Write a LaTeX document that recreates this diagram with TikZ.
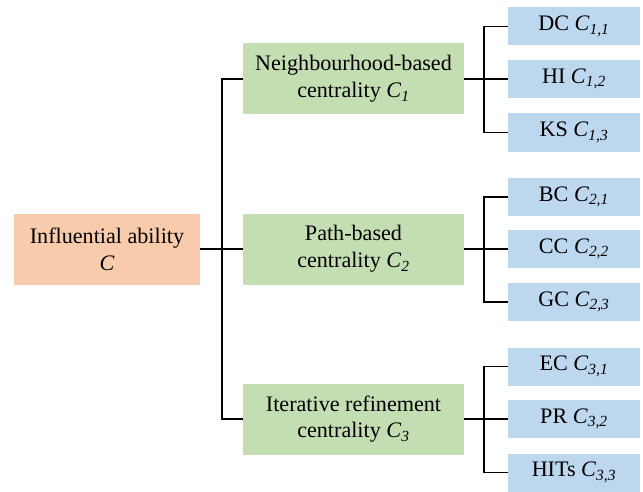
\documentclass[tikz,border=0pt]{standalone}
\usepackage{fontspec}
\setmainfont{Liberation Serif}
\definecolor{rootfill}{HTML}{F8CBAD}
\definecolor{midfill}{HTML}{C5DDB3}
\definecolor{leaffill}{HTML}{BDD7EE}
\newcommand{\Csub}[1]{\textit{C}\textsubscript{\textit{#1}}}
\begin{document}
\begin{tikzpicture}[x=0.75pt,y=-0.75pt,
  boxbase/.style={draw=none,inner sep=0pt,align=center,font=\fontsize{16.6}{20}\selectfont},
  rootbox/.style={boxbase,fill=rootfill,minimum width=139.5pt,minimum height=53.25pt},
  midbox/.style={boxbase,fill=midfill,minimum width=165.75pt,minimum height=53.25pt},
  leafbox/.style={boxbase,fill=leaffill,minimum width=99pt,minimum height=28.5pt},
  conn/.style={draw=black,line width=1.4pt}]
\useasboundingbox (0,0) rectangle (643,492);
\node[rootbox] (root) at (107,249) {Influential ability\\\textit{C}};
\node[midbox] (m1) at (353.5,79) {Neighbourhood-based\\centrality \Csub{1}};
\node[midbox] (m2) at (353.5,249) {Path-based\\centrality \Csub{2}};
\node[midbox] (m3) at (353.5,419) {Iterative refinement\\centrality \Csub{3}};
\node[leafbox] (l11) at (574,26.5) {DC \Csub{1,1}};
\node[leafbox] (l12) at (574,79) {HI \Csub{1,2}};
\node[leafbox] (l13) at (574,132.5) {KS \Csub{1,3}};
\node[leafbox] (l21) at (574,197) {BC \Csub{2,1}};
\node[leafbox] (l22) at (574,249) {CC \Csub{2,2}};
\node[leafbox] (l23) at (574,302) {GC \Csub{2,3}};
\node[leafbox] (l31) at (574,366.5) {EC \Csub{3,1}};
\node[leafbox] (l32) at (574,419) {PR \Csub{3,2}};
\node[leafbox] (l33) at (574,472.5) {HITs \Csub{3,3}};
\coordinate (j0) at (222,249);
\coordinate (j1) at (484,79);
\coordinate (j2) at (484,249);
\coordinate (j3) at (484,419);
\draw[conn] (root.east) -- (m2.west);
\draw[conn] (m1.west) -| (j0) |- (m3.west);
\draw[conn] (m1.east) -- (l12.west);
\draw[conn] (l11.west) -| (j1) |- (l13.west);
\draw[conn] (m2.east) -- (l22.west);
\draw[conn] (l21.west) -| (j2) |- (l23.west);
\draw[conn] (m3.east) -- (l32.west);
\draw[conn] (l31.west) -| (j3) |- (l33.west);
\end{tikzpicture}
\end{document}
